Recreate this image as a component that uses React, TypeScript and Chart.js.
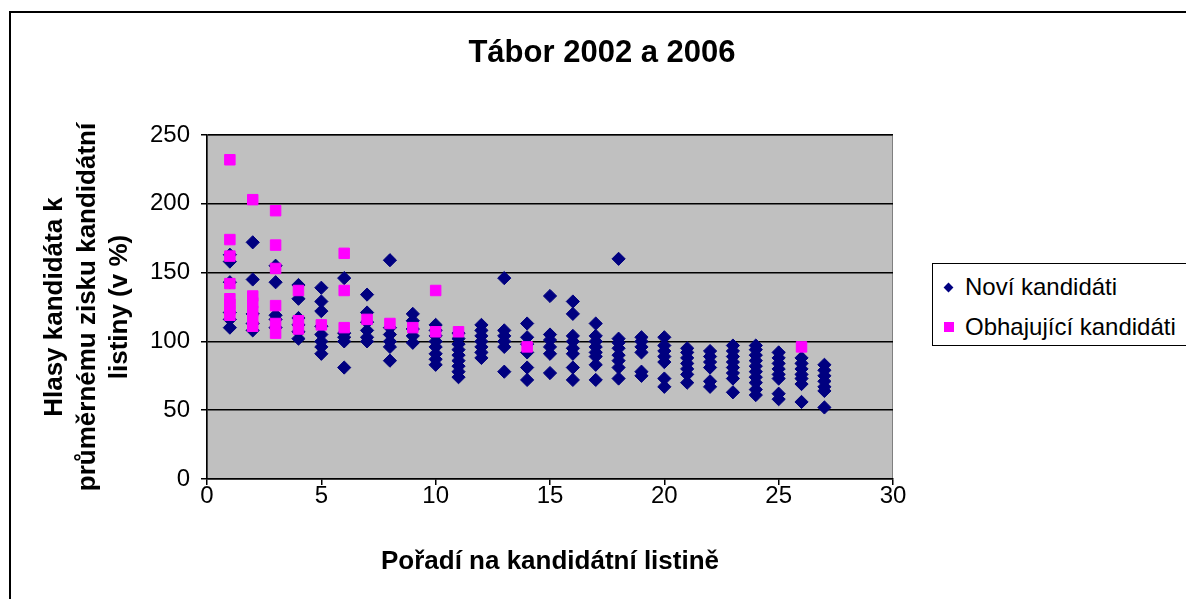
import React, { useEffect, useRef } from "react";
import { Chart, registerables } from "chart.js";

Chart.register(...registerables);

const FONT = "'Liberation Sans', Arial, Helvetica, sans-serif";

const chartTitle = "Tábor 2002 a 2006";
const xAxisTitle = "Pořadí na kandidátní listině";
const yAxisTitle = ["Hlasy kandidáta k", "průměrnému zisku kandidátní", "listiny (v %)"];
const seriesNames = ["Noví kandidáti", "Obhajující kandidáti"];
const seriesColors = ["#000080", "#FF00FF"];

const xMin = 0;
const xMax = 30;
const xStep = 5;
const yMin = 0;
const yMax = 250;
const yStep = 50;

// Noví kandidáti: rank on list and values (%) per rank
const noviRanks = [1, 2, 3, 4, 5, 6, 7, 8, 9, 10, 11, 12, 13, 14, 15, 16, 17, 18, 19, 20, 21, 22, 23, 24, 25, 26, 27];
const noviValues = [
  [163, 158, 143, 121, 116, 110],
  [172, 145, 120, 113, 108],
  [155, 143, 119, 116, 110],
  [141, 131, 117, 112, 107, 102],
  [139, 129, 122, 111, 105, 100, 96, 91],
  [146, 106, 103, 100, 81],
  [134, 121, 114, 108, 103, 100],
  [159, 110, 105, 100, 96, 86],
  [120, 115, 109, 104, 99],
  [112, 108, 104, 100, 96, 91, 87, 83],
  [106, 102, 98, 94, 90, 86, 82, 78, 74],
  [112, 108, 104, 100, 96, 92, 88],
  [146, 108, 104, 100, 96, 78],
  [113, 103, 98, 92, 81, 72],
  [133, 105, 101, 96, 91, 77],
  [129, 120, 104, 100, 95, 91, 81, 72],
  [113, 104, 100, 96, 92, 89, 83, 72],
  [160, 102, 99, 95, 90, 86, 81, 73],
  [103, 100, 96, 92, 78, 75],
  [103, 97, 93, 89, 85, 73, 67],
  [95, 92, 88, 84, 80, 76, 70],
  [93, 89, 85, 81, 71, 67],
  [97, 93, 89, 85, 81, 77, 73, 63],
  [97, 94, 90, 86, 82, 78, 74, 70, 65, 61],
  [92, 88, 84, 80, 76, 73, 62, 58],
  [88, 84, 80, 76, 73, 69, 56],
  [83, 79, 75, 71, 67, 64, 52],
];

// Obhajující kandidáti
const obhRanks = [1, 2, 3, 4, 5, 6, 7, 8, 9, 10, 11, 14, 26];
const obhValues = [
  [232, 174, 162, 142, 131, 127, 123, 119],
  [203, 133, 128, 122, 116, 111],
  [195, 170, 153, 126, 113, 106],
  [137, 115, 109],
  [112],
  [164, 137, 110],
  [116],
  [113],
  [110],
  [137, 107],
  [107],
  [96],
  [96],
];

const toPoints = (ranks: number[], values: number[][]) =>
  ranks.flatMap((r, i) => values[i].map((v) => ({ x: r, y: v })));

const plotBackground = {
  id: "plotBackground",
  beforeDraw(chart: any) {
    const { ctx, chartArea: a } = chart;
    ctx.save();
    ctx.fillStyle = "#C0C0C0";
    ctx.fillRect(a.left, a.top, a.right - a.left, a.bottom - a.top);
    ctx.strokeStyle = "#808080";
    ctx.lineWidth = 1;
    ctx.strokeRect(a.left + 0.5, a.top + 0.5, a.right - a.left - 1, a.bottom - a.top - 1);
    ctx.restore();
  },
};

export default function App() {
  const canvasRef = useRef<HTMLCanvasElement | null>(null);

  useEffect(() => {
    if (!canvasRef.current) return;
    const chart = new Chart(canvasRef.current, {
      type: "scatter",
      data: {
        datasets: [
          {
            label: seriesNames[0],
            data: toPoints(noviRanks, noviValues),
            pointStyle: "rectRot",
            pointRadius: 6.6,
            pointHoverRadius: 6.6,
            backgroundColor: seriesColors[0],
            borderColor: seriesColors[0],
            borderWidth: 1,
            order: 2,
          },
          {
            label: seriesNames[1],
            data: toPoints(obhRanks, obhValues),
            pointStyle: "rect",
            pointRadius: 7.4,
            pointHoverRadius: 7.4,
            backgroundColor: seriesColors[1],
            borderColor: seriesColors[1],
            borderWidth: 1,
            order: 1,
          },
        ],
      },
      options: {
        animation: false,
        responsive: false,
        events: [],
        layout: { padding: { left: 10, top: 135, right: 293, bottom: 0 } },
        plugins: {
          legend: { display: false },
          title: { display: false },
          tooltip: { enabled: false },
        },
        scales: {
          x: {
            type: "linear",
            min: xMin,
            max: xMax,
            afterFit: (s: any) => {
              s.height = 120;
            },
            ticks: {
              stepSize: xStep,
              color: "#000",
              font: { family: FONT, size: 24, lineHeight: 1.2 },
              padding: -3,
              maxRotation: 0,
            },
            grid: {
              drawOnChartArea: false,
              drawTicks: true,
              tickLength: 6,
              tickColor: "#000",
              color: "#000",
              lineWidth: 1.5,
            },
            border: { color: "#000", width: 1.5 },
            title: {
              display: true,
              text: xAxisTitle,
              color: "#000",
              font: { family: FONT, size: 26, weight: "bold", lineHeight: 1.25 },
              padding: { top: 0, bottom: 21 },
            },
          },
          y: {
            type: "linear",
            min: yMin,
            max: yMax,
            afterFit: (s: any) => {
              s.width = 197;
            },
            ticks: {
              stepSize: yStep,
              color: "#000",
              font: { family: FONT, size: 24, lineHeight: 1.2 },
              padding: 11,
            },
            grid: {
              drawOnChartArea: true,
              drawTicks: true,
              tickLength: 6,
              tickColor: "#000",
              color: "#000",
              lineWidth: 1.5,
            },
            border: { color: "#000", width: 1.5 },
            title: {
              display: true,
              text: yAxisTitle,
              color: "#000",
              font: { family: FONT, size: 26, weight: "bold", lineHeight: 1.25 },
              padding: { top: 28.75, bottom: 0 },
            },
          },
        },
      },
      plugins: [plotBackground],
    });
    return () => chart.destroy();
  }, []);

  return (
    <div style={{ position: "fixed", inset: 0, overflow: "hidden", background: "#fff" }}>
      <div
        style={{
          position: "absolute",
          left: 9,
          top: 11,
          width: 1400,
          height: 800,
          border: "2px solid #000",
        }}
      />
      <canvas
        ref={canvasRef}
        width={1186}
        height={599}
        style={{ position: "absolute", left: 0, top: 0, width: 1186, height: 599 }}
      />
      <div
        style={{
          position: "absolute",
          left: 0,
          width: 1204,
          top: 34,
          textAlign: "center",
          font: `bold 31px/36px ${FONT}`,
          color: "#000",
        }}
      >
        {chartTitle}
      </div>
      <div
        style={{
          position: "absolute",
          left: 932,
          top: 263,
          width: 300,
          height: 83,
          border: "1px solid #000",
          boxSizing: "border-box",
          background: "#fff",
        }}
      >
        {seriesNames.map((name, i) => (
          <div
            key={name}
            style={{
              position: "absolute",
              left: 0,
              top: 9 + 40 * i,
              height: 28,
              width: 298,
              font: `24px/28px ${FONT}`,
              color: "#000",
            }}
          >
            <div
              style={{
                position: "absolute",
                left: i === 0 ? 11.5 : 10.5,
                top: i === 0 ? 10.5 : 9,
                width: i === 0 ? 7 : 10,
                height: i === 0 ? 7 : 10,
                background: seriesColors[i],
                transform: i === 0 ? "rotate(45deg)" : "none",
              }}
            />
            <span style={{ position: "absolute", left: 32, top: 0, whiteSpace: "nowrap" }}>{name}</span>
          </div>
        ))}
      </div>
    </div>
  );
}
